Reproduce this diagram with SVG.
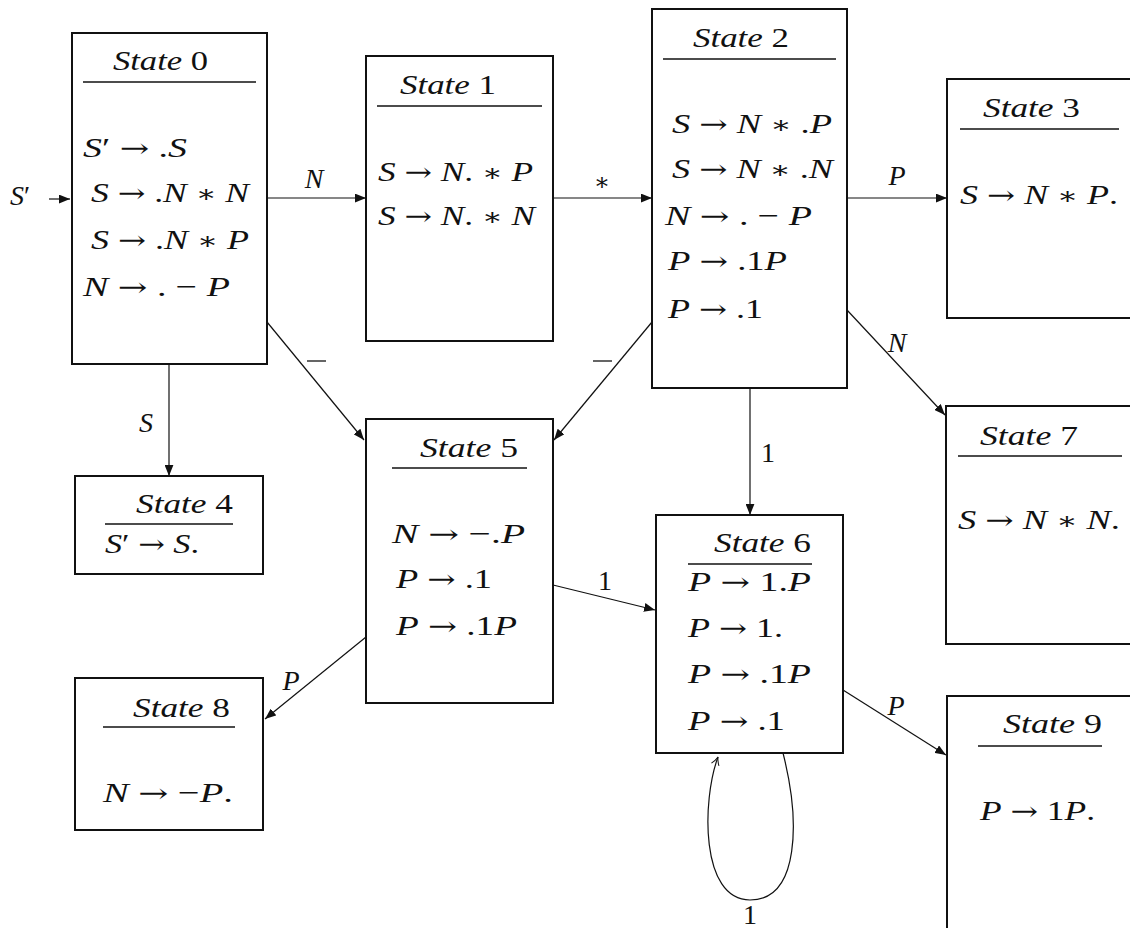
<svg xmlns="http://www.w3.org/2000/svg" width="1130" height="928" viewBox="0 0 1130 928">
<style>
text{font-family:'Liberation Serif','Times New Roman',serif;font-size:28px;fill:#111}
.i{font-style:italic}
.ast{font-family:'DejaVu Serif',serif;font-size:24px}
.ar{font-family:'DejaVu Serif',serif;font-size:26px}
.box{fill:#fff;stroke:#111;stroke-width:2}
.ul{stroke:#111;stroke-width:1.3}
.e{stroke:#111;stroke-width:1.2;fill:none}
.lb{text-anchor:middle}
</style>
<defs>
<marker id="ah" viewBox="0 0 10 8" refX="10" refY="4" markerWidth="11" markerHeight="9" markerUnits="userSpaceOnUse" orient="auto"><path d="M0,0 L10,4 L0,8 z" fill="#111"/></marker>
<marker id="oh" viewBox="0 0 10 10" refX="9" refY="5" markerWidth="10" markerHeight="10" markerUnits="userSpaceOnUse" orient="auto"><path d="M1,1 Q5,4 9,5 Q5,6 1,9" fill="none" stroke="#111" stroke-width="1"/></marker>
</defs>
<g id="state0">
<rect class="box" x="72" y="33" width="195" height="331"/>
<text x="113" y="70" textLength="95" lengthAdjust="spacingAndGlyphs"><tspan class="i">State</tspan> 0</text>
<line class="ul" x1="83" y1="82" x2="256" y2="82"/>
<text x="83" y="157" textLength="104" lengthAdjust="spacingAndGlyphs"><tspan class="i">S</tspan>′ <tspan class="ar">→</tspan> .<tspan class="i">S</tspan></text>
<text x="91" y="202" textLength="158" lengthAdjust="spacingAndGlyphs"><tspan class="i">S</tspan> <tspan class="ar">→</tspan> .<tspan class="i">N</tspan> <tspan class="ast">∗</tspan> <tspan class="i">N</tspan></text>
<text x="91" y="249" textLength="158" lengthAdjust="spacingAndGlyphs"><tspan class="i">S</tspan> <tspan class="ar">→</tspan> .<tspan class="i">N</tspan> <tspan class="ast">∗</tspan> <tspan class="i">P</tspan></text>
<text x="83" y="296" textLength="147" lengthAdjust="spacingAndGlyphs"><tspan class="i">N</tspan> <tspan class="ar">→</tspan> . − <tspan class="i">P</tspan></text>
</g>

<g id="state1">
<rect class="box" x="366" y="56" width="187" height="285"/>
<text x="400" y="94" textLength="96" lengthAdjust="spacingAndGlyphs"><tspan class="i">State</tspan> 1</text>
<line class="ul" x1="377" y1="106" x2="542" y2="106"/>
<text x="378" y="181" textLength="155" lengthAdjust="spacingAndGlyphs"><tspan class="i">S</tspan> <tspan class="ar">→</tspan> <tspan class="i">N</tspan>. <tspan class="ast">∗</tspan> <tspan class="i">P</tspan></text>
<text x="378" y="225" textLength="157" lengthAdjust="spacingAndGlyphs"><tspan class="i">S</tspan> <tspan class="ar">→</tspan> <tspan class="i">N</tspan>. <tspan class="ast">∗</tspan> <tspan class="i">N</tspan></text>
</g>

<g id="state2">
<rect class="box" x="652" y="9" width="195" height="379"/>
<text x="693" y="47" textLength="96" lengthAdjust="spacingAndGlyphs"><tspan class="i">State</tspan> 2</text>
<line class="ul" x1="663" y1="59" x2="836" y2="59"/>
<text x="672" y="133" textLength="160" lengthAdjust="spacingAndGlyphs"><tspan class="i">S</tspan> <tspan class="ar">→</tspan> <tspan class="i">N</tspan> <tspan class="ast">∗</tspan> .<tspan class="i">P</tspan></text>
<text x="672" y="178" textLength="161" lengthAdjust="spacingAndGlyphs"><tspan class="i">S</tspan> <tspan class="ar">→</tspan> <tspan class="i">N</tspan> <tspan class="ast">∗</tspan> .<tspan class="i">N</tspan></text>
<text x="665" y="225" textLength="147" lengthAdjust="spacingAndGlyphs"><tspan class="i">N</tspan> <tspan class="ar">→</tspan> . − <tspan class="i">P</tspan></text>
<text x="668" y="270" textLength="119" lengthAdjust="spacingAndGlyphs"><tspan class="i">P</tspan> <tspan class="ar">→</tspan> .1<tspan class="i">P</tspan></text>
<text x="668" y="318" textLength="95" lengthAdjust="spacingAndGlyphs"><tspan class="i">P</tspan> <tspan class="ar">→</tspan> .1</text>
</g>

<g id="state3">
<rect class="box" x="947" y="79" width="220" height="239"/>
<text x="983" y="117" textLength="97" lengthAdjust="spacingAndGlyphs"><tspan class="i">State</tspan> 3</text>
<line class="ul" x1="960" y1="129" x2="1119" y2="129"/>
<text x="960" y="204" textLength="158" lengthAdjust="spacingAndGlyphs"><tspan class="i">S</tspan> <tspan class="ar">→</tspan> <tspan class="i">N</tspan> <tspan class="ast">∗</tspan> <tspan class="i">P</tspan>.</text>
</g>

<g id="state4">
<rect class="box" x="75" y="476" width="188" height="98"/>
<text x="136" y="513" textLength="97" lengthAdjust="spacingAndGlyphs"><tspan class="i">State</tspan> 4</text>
<line class="ul" x1="105" y1="524" x2="233" y2="524"/>
<text x="105" y="553" textLength="94" lengthAdjust="spacingAndGlyphs"><tspan class="i">S</tspan>′ <tspan class="ar">→</tspan> <tspan class="i">S</tspan>.</text>
</g>

<g id="state5">
<rect class="box" x="366" y="419" width="187" height="284"/>
<text x="420" y="457" textLength="98" lengthAdjust="spacingAndGlyphs"><tspan class="i">State</tspan> 5</text>
<line class="ul" x1="392" y1="468" x2="527" y2="468"/>
<text x="392" y="543" textLength="133" lengthAdjust="spacingAndGlyphs"><tspan class="i">N</tspan> <tspan class="ar">→</tspan> −.<tspan class="i">P</tspan></text>
<text x="396" y="588" textLength="96" lengthAdjust="spacingAndGlyphs"><tspan class="i">P</tspan> <tspan class="ar">→</tspan> .1</text>
<text x="396" y="635" textLength="121" lengthAdjust="spacingAndGlyphs"><tspan class="i">P</tspan> <tspan class="ar">→</tspan> .1<tspan class="i">P</tspan></text>
</g>

<g id="state6">
<rect class="box" x="656" y="515" width="187" height="238"/>
<text x="714" y="552" textLength="97" lengthAdjust="spacingAndGlyphs"><tspan class="i">State</tspan> 6</text>
<line class="ul" x1="688" y1="564" x2="812" y2="564"/>
<text x="688" y="591" textLength="123" lengthAdjust="spacingAndGlyphs"><tspan class="i">P</tspan> <tspan class="ar">→</tspan> 1.<tspan class="i">P</tspan></text>
<text x="688" y="637" textLength="95" lengthAdjust="spacingAndGlyphs"><tspan class="i">P</tspan> <tspan class="ar">→</tspan> 1.</text>
<text x="688" y="683" textLength="123" lengthAdjust="spacingAndGlyphs"><tspan class="i">P</tspan> <tspan class="ar">→</tspan> .1<tspan class="i">P</tspan></text>
<text x="688" y="730" textLength="97" lengthAdjust="spacingAndGlyphs"><tspan class="i">P</tspan> <tspan class="ar">→</tspan> .1</text>
</g>

<g id="state7">
<rect class="box" x="946" y="406" width="220" height="238"/>
<text x="980" y="445" textLength="98" lengthAdjust="spacingAndGlyphs"><tspan class="i">State</tspan> 7</text>
<line class="ul" x1="958" y1="456" x2="1122" y2="456"/>
<text x="958" y="529" textLength="162" lengthAdjust="spacingAndGlyphs"><tspan class="i">S</tspan> <tspan class="ar">→</tspan> <tspan class="i">N</tspan> <tspan class="ast">∗</tspan> <tspan class="i">N</tspan>.</text>
</g>

<g id="state8">
<rect class="box" x="75" y="678" width="188" height="152"/>
<text x="133" y="717" textLength="97" lengthAdjust="spacingAndGlyphs"><tspan class="i">State</tspan> 8</text>
<line class="ul" x1="103" y1="727" x2="235" y2="727"/>
<text x="103" y="802" textLength="130" lengthAdjust="spacingAndGlyphs"><tspan class="i">N</tspan> <tspan class="ar">→</tspan> −<tspan class="i">P</tspan>.</text>
</g>

<g id="state9">
<rect class="box" x="947" y="696" width="220" height="260"/>
<text x="1003" y="733" textLength="99" lengthAdjust="spacingAndGlyphs"><tspan class="i">State</tspan> 9</text>
<line class="ul" x1="978" y1="746" x2="1102" y2="746"/>
<text x="980" y="820" textLength="115" lengthAdjust="spacingAndGlyphs"><tspan class="i">P</tspan> <tspan class="ar">→</tspan> 1<tspan class="i">P</tspan>.</text>
</g>

<g id="connectors">
<line class="e" x1="49" y1="199" x2="70" y2="199" marker-end="url(#ah)"/>
<text x="10" y="205"><tspan class="i">S</tspan>′</text>
<line class="e" x1="267" y1="198" x2="366" y2="198" marker-end="url(#ah)"/>
<text class="lb i" x="314" y="188">N</text>
<line class="e" x1="553" y1="198" x2="652" y2="198" marker-end="url(#ah)"/>
<text class="lb ast" x="602" y="190">∗</text>
<line class="e" x1="847" y1="198" x2="947" y2="198" marker-end="url(#ah)"/>
<text class="lb i" x="897" y="185">P</text>
<line class="e" x1="847" y1="310" x2="945" y2="415" marker-end="url(#ah)"/>
<text class="lb i" x="897" y="352">N</text>
<line class="e" x1="169" y1="364" x2="169" y2="476" marker-end="url(#ah)"/>
<text class="lb i" x="146" y="432">S</text>
<line class="e" x1="267" y1="322" x2="364" y2="440" marker-end="url(#ah)"/>
<line class="ul" x1="307" y1="361" x2="326" y2="361"/>
<line class="e" x1="652" y1="322" x2="554" y2="440" marker-end="url(#ah)"/>
<line class="ul" x1="593" y1="361" x2="612" y2="361"/>
<line class="e" x1="750" y1="388" x2="750" y2="515" marker-end="url(#ah)"/>
<text class="lb" x="768" y="462">1</text>
<line class="e" x1="553" y1="585" x2="655" y2="610" marker-end="url(#ah)"/>
<text class="lb" x="605" y="590">1</text>
<line class="e" x1="366" y1="637" x2="265" y2="719" marker-end="url(#ah)"/>
<text class="lb i" x="291" y="690">P</text>
<line class="e" x1="843" y1="690" x2="946" y2="755" marker-end="url(#ah)"/>
<text class="lb i" x="896" y="715">P</text>
<path class="e" d="M783,753 C800,820 800,900 750,900 C700,900 702,800 718,757" marker-end="url(#oh)"/>
<text class="lb" x="750" y="924">1</text>
</g>
</svg>
